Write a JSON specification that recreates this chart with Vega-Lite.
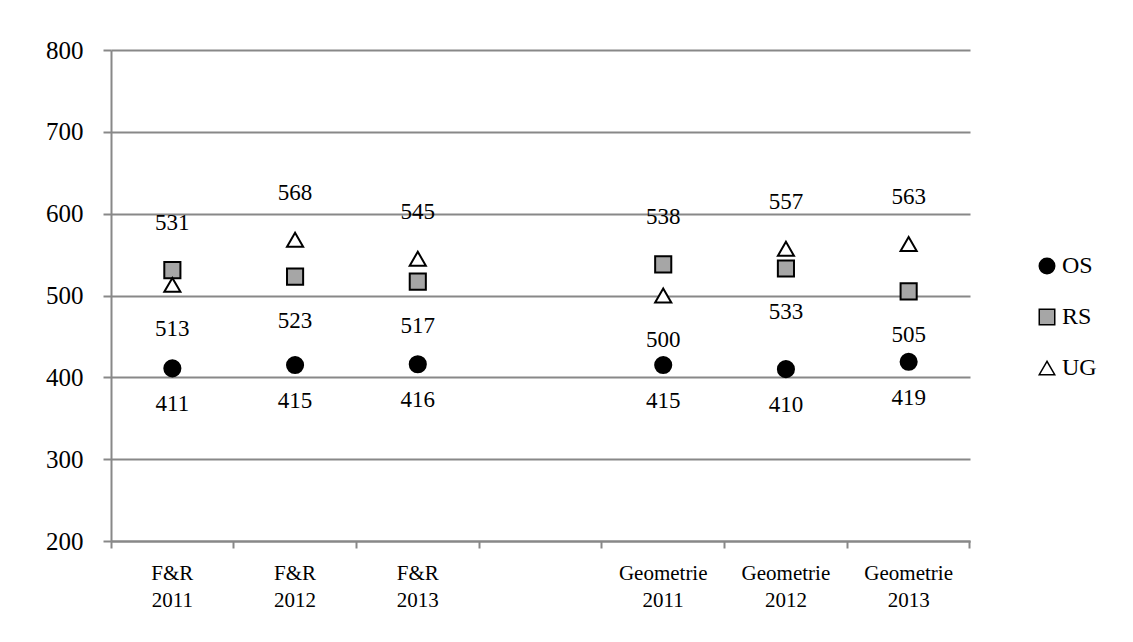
{
  "$schema": "https://vega.github.io/schema/vega-lite/v6.json",
  "autosize": "none",
  "width": 859,
  "height": 491,
  "padding": {"left": 111, "top": 50, "right": 163, "bottom": 101},
  "background": "white",
  "config": {
    "view": {"stroke": null},
    "font": "Liberation Serif",
    "text": {"font": "Liberation Serif", "fontSize": 23, "color": "black", "baseline": "middle", "align": "center"}
  },
  "data": {
    "values": [
      {"cat": "F&R|2011", "series": "OS", "value": 411},
      {"cat": "F&R|2012", "series": "OS", "value": 415},
      {"cat": "F&R|2013", "series": "OS", "value": 416},
      {"cat": "Geometrie|2011", "series": "OS", "value": 415},
      {"cat": "Geometrie|2012", "series": "OS", "value": 410},
      {"cat": "Geometrie|2013", "series": "OS", "value": 419},
      {"cat": "F&R|2011", "series": "RS", "value": 531},
      {"cat": "F&R|2012", "series": "RS", "value": 523},
      {"cat": "F&R|2013", "series": "RS", "value": 517},
      {"cat": "Geometrie|2011", "series": "RS", "value": 538},
      {"cat": "Geometrie|2012", "series": "RS", "value": 533},
      {"cat": "Geometrie|2013", "series": "RS", "value": 505},
      {"cat": "F&R|2011", "series": "UG", "value": 513},
      {"cat": "F&R|2012", "series": "UG", "value": 568},
      {"cat": "F&R|2013", "series": "UG", "value": 545},
      {"cat": "Geometrie|2011", "series": "UG", "value": 500},
      {"cat": "Geometrie|2012", "series": "UG", "value": 557},
      {"cat": "Geometrie|2013", "series": "UG", "value": 563}
    ]
  },
  "resolve": {"scale": {"x": "shared"}, "axis": {"x": "independent"}},
  "encoding": {
    "y": {
      "field": "value",
      "type": "quantitative",
      "scale": {"domain": [200, 800], "nice": false, "zero": false},
      "axis": {
        "title": null,
        "values": [200, 300, 400, 500, 600, 700, 800],
        "labelFont": "Liberation Serif",
        "labelFontSize": 25,
        "labelColor": "black",
        "labelPadding": 20,
        "domainColor": "#888888",
        "domainWidth": 2,
        "tickColor": "#888888",
        "tickWidth": 2,
        "tickSize": 8,
        "grid": true,
        "gridColor": "#888888",
        "gridWidth": 2
      }
    }
  },
  "layer": [
    {
      "mark": {"type": "point", "filled": true, "stroke": "black", "strokeWidth": 2, "opacity": 1, "size": 260},
      "encoding": {
        "x": {
          "field": "cat",
          "type": "nominal",
          "sort": null,
          "scale": {
            "type": "band",
            "domain": ["F&R|2011", "F&R|2012", "F&R|2013", "gap", "Geometrie|2011", "Geometrie|2012", "Geometrie|2013"],
            "paddingInner": 0,
            "paddingOuter": 0
          },
          "axis": {
            "title": null,
            "orient": "bottom",
            "bandPosition": 1,
            "tickExtra": true,
            "labels": false,
            "domainColor": "#888888",
            "domainWidth": 2,
            "tickColor": "#888888",
            "tickWidth": 2,
            "tickSize": 7,
            "grid": false
          }
        },
        "shape": {
          "field": "series",
          "type": "nominal",
          "scale": {"domain": ["OS", "RS", "UG"], "range": ["circle", "square", "triangle-up"]},
          "legend": {
            "title": null,
            "orient": "none",
            "legendX": 924,
            "legendY": 204,
            "symbolSize": 240,
            "labelFont": "Liberation Serif",
            "labelFontSize": 24,
            "labelColor": "black",
            "labelOffset": 3,
            "rowPadding": 27,
            "encode": {"symbols": {"update": {"stroke": {"value": "black"}, "strokeWidth": {"value": 2}, "opacity": {"value": 1}}}}
          }
        },
        "fill": {
          "field": "series",
          "type": "nominal",
          "scale": {"domain": ["OS", "RS", "UG"], "range": ["#000000", "#a6a6a6", "#ffffff"]},
          "legend": {
            "title": null,
            "orient": "none",
            "legendX": 924,
            "legendY": 204,
            "symbolSize": 240,
            "labelFont": "Liberation Serif",
            "labelFontSize": 24,
            "labelColor": "black",
            "labelOffset": 3,
            "rowPadding": 27,
            "encode": {"symbols": {"update": {"stroke": {"value": "black"}, "strokeWidth": {"value": 2}, "opacity": {"value": 1}}}}
          }
        }
      }
    },
    {
      "transform": [{"filter": "datum.series == 'OS'"}],
      "mark": {"type": "text", "dy": 36},
      "encoding": {
        "x": {
          "field": "cat",
          "type": "nominal",
          "sort": null,
          "axis": {
            "title": null,
            "orient": "bottom",
            "labelAngle": 0,
            "labelAlign": "center",
            "labelBaseline": "top",
            "labelExpr": "datum.value == 'gap' ? '' : split(datum.value, '|')",
            "labelFont": "Liberation Serif",
            "labelFontSize": 21,
            "labelLineHeight": 27,
            "labelColor": "black",
            "labelPadding": 21,
            "labelOverlap": false,
            "labelFlush": false,
            "labelBound": false,
            "domain": false,
            "ticks": false,
            "grid": false
          }
        },
        "text": {"field": "value", "type": "quantitative"}
      }
    },
    {
      "transform": [
        {"filter": "datum.series != 'OS'"},
        {"joinaggregate": [{"op": "max", "field": "value", "as": "maxv"}], "groupby": ["cat"]},
        {"filter": "datum.value == datum.maxv"}
      ],
      "mark": {"type": "text", "dy": -47},
      "encoding": {
        "x": {"field": "cat", "type": "nominal", "sort": null, "axis": null},
        "text": {"field": "value", "type": "quantitative"}
      }
    },
    {
      "transform": [
        {"filter": "datum.series != 'OS'"},
        {"joinaggregate": [{"op": "max", "field": "value", "as": "maxv"}], "groupby": ["cat"]},
        {"filter": "datum.value < datum.maxv"}
      ],
      "mark": {"type": "text", "dy": 44},
      "encoding": {
        "x": {"field": "cat", "type": "nominal", "sort": null, "axis": null},
        "text": {"field": "value", "type": "quantitative"}
      }
    }
  ]
}
